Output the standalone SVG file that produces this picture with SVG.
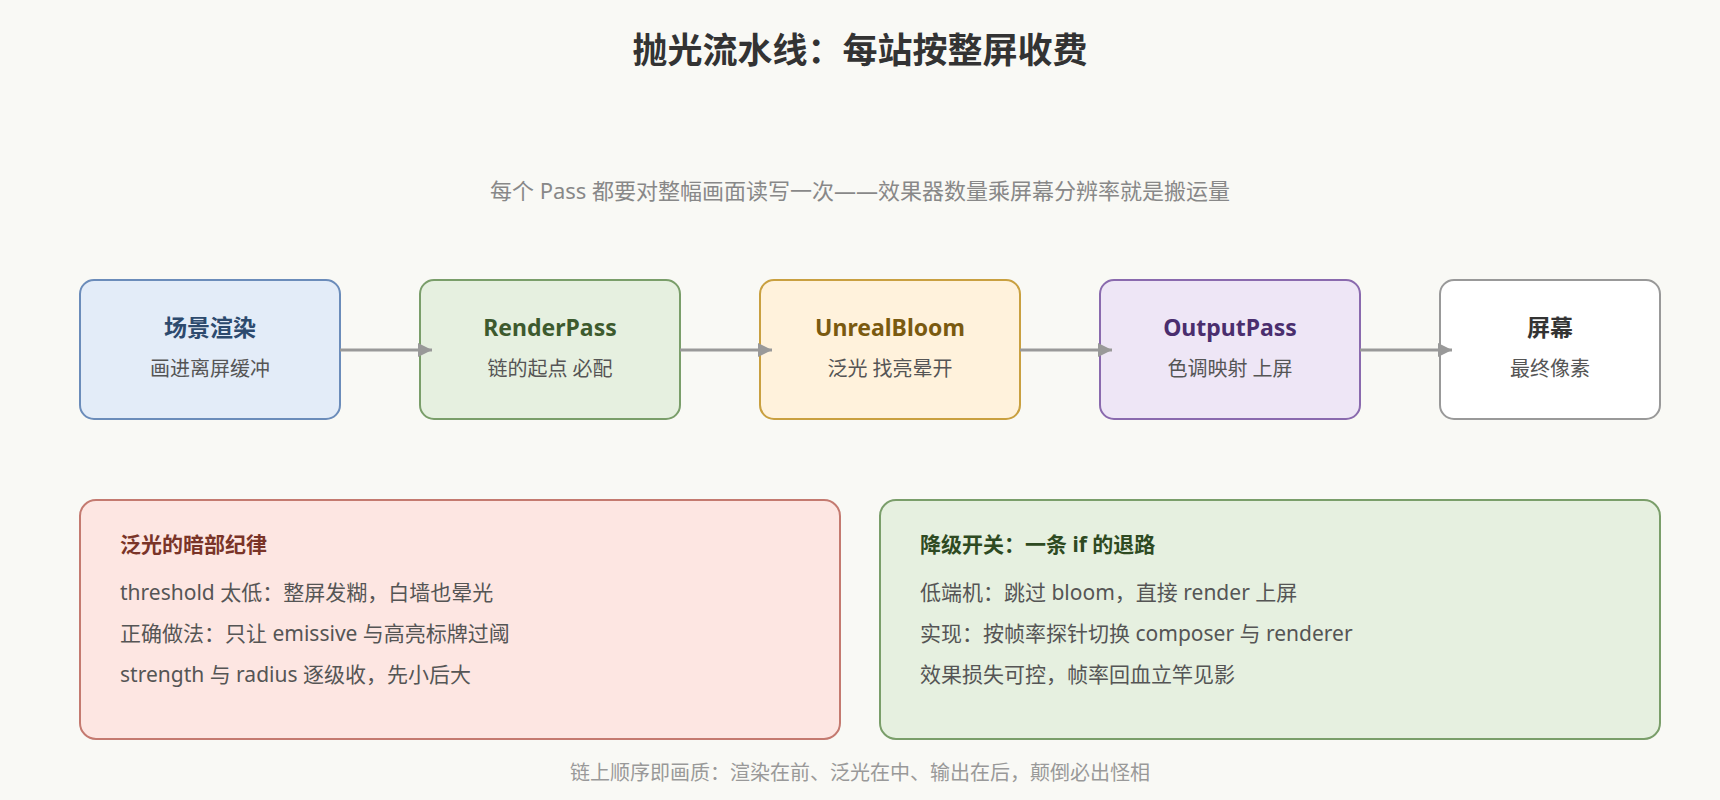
<svg xmlns="http://www.w3.org/2000/svg" width="1720" height="800" viewBox="0 0 1720 800">
<defs>
<marker id="a2" viewBox="0 0 10 10" refX="10" refY="5" markerWidth="14" markerHeight="14" markerUnits="userSpaceOnUse" orient="auto"><path d="M0,0L10,5L0,10z" fill="#999"/></marker>
<style>
text{font-family:"Noto Sans","Noto Sans CJK SC",sans-serif}
.t{font-size:23px;font-weight:bold;text-anchor:middle}
.s{font-size:20px;text-anchor:middle;fill:#555}
.p{font-size:21px;fill:#555}
.pt{font-size:21px;font-weight:bold}
.c{stroke:#999;stroke-width:3;fill:none;marker-end:url(#a2)}
</style>
</defs>
<rect width="1720" height="800" fill="#f9f9f5"/>
<text x="860" y="63" font-size="35" font-weight="bold" text-anchor="middle" fill="#333">抛光流水线：每站按整屏收费</text>
<text x="860" y="199" font-size="22" text-anchor="middle" fill="#888">每个 Pass 都要对整幅画面读写一次——效果器数量乘屏幕分辨率就是搬运量</text>
<g id="n1"><rect x="80" y="280" width="260" height="139" rx="14" fill="#e3ecf8" stroke="#6b8cba" stroke-width="2"/><text class="t" x="210" y="336" fill="#2d4a6e">场景渲染</text><text class="s" x="210" y="376">画进离屏缓冲</text></g>
<g id="n2"><rect x="420" y="280" width="260" height="139" rx="14" fill="#e6f0e0" stroke="#7a9e6a" stroke-width="2"/><text class="t" x="550" y="336" fill="#3d5a2e">RenderPass</text><text class="s" x="550" y="376">链的起点 必配</text></g>
<g id="n3"><rect x="760" y="280" width="260" height="139" rx="14" fill="#fff2dc" stroke="#c9a040" stroke-width="2"/><text class="t" x="890" y="336" fill="#7a5a10">UnrealBloom</text><text class="s" x="890" y="376">泛光 找亮晕开</text></g>
<g id="n4"><rect x="1100" y="280" width="260" height="139" rx="14" fill="#eee6f6" stroke="#8a6aae" stroke-width="2"/><text class="t" x="1230" y="336" fill="#4a2e6e">OutputPass</text><text class="s" x="1230" y="376">色调映射 上屏</text></g>
<g id="n5"><rect x="1440" y="280" width="220" height="139" rx="14" fill="#fff" stroke="#999" stroke-width="2"/><text class="t" x="1550" y="336" fill="#333">屏幕</text><text class="s" x="1550" y="376" fill="#888">最终像素</text></g>
<g id="connectors">
<path class="c" d="M340 350H432"/>
<path class="c" d="M680 350H772"/>
<path class="c" d="M1020 350H1112"/>
<path class="c" d="M1360 350H1452"/>
</g>
<g id="left"><rect x="80" y="500" width="760" height="239" rx="16" fill="#fde6e2" stroke="#c47a70" stroke-width="2"/>
<text class="pt" x="120" y="552" fill="#7a3428">泛光的暗部纪律</text>
<text class="p" x="120" y="600">threshold 太低：整屏发糊，白墙也晕光</text>
<text class="p" x="120" y="641">正确做法：只让 emissive 与高亮标牌过阈</text>
<text class="p" x="120" y="682">strength 与 radius 逐级收，先小后大</text></g>
<g id="right"><rect x="880" y="500" width="780" height="239" rx="16" fill="#e6f0e0" stroke="#7a9e6a" stroke-width="2"/>
<text class="pt" x="920" y="552" fill="#2e4a22">降级开关：一条 if 的退路</text>
<text class="p" x="920" y="600">低端机：跳过 bloom，直接 render 上屏</text>
<text class="p" x="920" y="641">实现：按帧率探针切换 composer 与 renderer</text>
<text class="p" x="920" y="682">效果损失可控，帧率回血立竿见影</text></g>
<text x="860" y="780" font-size="20" text-anchor="middle" fill="#999">链上顺序即画质：渲染在前、泛光在中、输出在后，颠倒必出怪相</text>
</svg>
